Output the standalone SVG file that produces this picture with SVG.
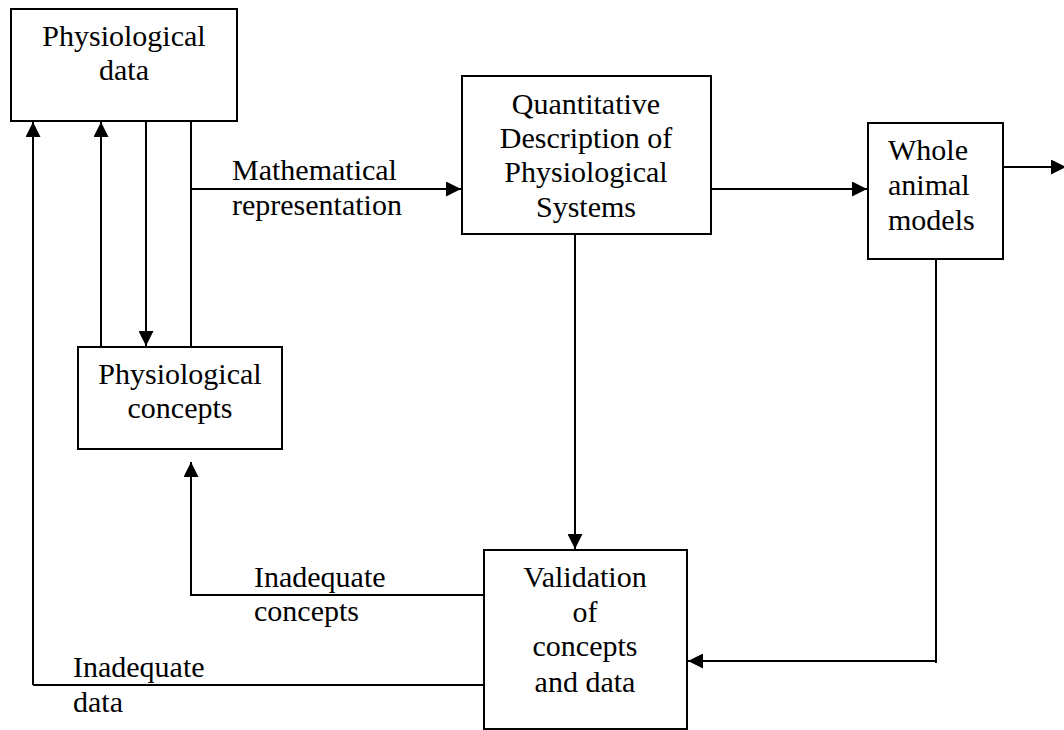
<svg xmlns="http://www.w3.org/2000/svg" width="1064" height="730" viewBox="0 0 1064 730">
<style>
.box{fill:#fff;stroke:#000;stroke-width:2}
.ln{fill:none;stroke:#000;stroke-width:2}
text{font-family:"Liberation Serif","Times New Roman",serif;font-size:30px;fill:#000}
.c{text-anchor:middle}
</style>
<defs>
<marker id="ah" markerUnits="userSpaceOnUse" markerWidth="15" markerHeight="15" viewBox="0 0 14 14" refX="14" refY="7" orient="auto">
<path d="M0,0 L14,7 L0,14 Z" fill="#000"/>
</marker>
</defs>
<rect width="1064" height="730" fill="#fff"/>
<g id="connectors">
<line class="ln" x1="33" y1="685" x2="33" y2="122" marker-end="url(#ah)"/>
<line class="ln" x1="101" y1="347" x2="101" y2="122" marker-end="url(#ah)"/>
<line class="ln" x1="146" y1="121" x2="146" y2="346" marker-end="url(#ah)"/>
<line class="ln" x1="191" y1="121" x2="191" y2="347"/>
<line class="ln" x1="191" y1="189" x2="461" y2="189" marker-end="url(#ah)"/>
<line class="ln" x1="711" y1="189" x2="867" y2="189" marker-end="url(#ah)"/>
<line class="ln" x1="1003" y1="167" x2="1066" y2="167" marker-end="url(#ah)"/>
<line class="ln" x1="575" y1="234" x2="575" y2="549" marker-end="url(#ah)"/>
<polyline class="ln" points="936,259 936,663"/>
<line class="ln" x1="936" y1="661" x2="688" y2="661" marker-end="url(#ah)"/>
<polyline class="ln" points="484,595 191,595 191,462" marker-end="url(#ah)"/>
<polyline class="ln" points="484,685 33,685"/>
<text x="232" y="180">Mathematical</text>
<text x="232" y="215">representation</text>
<text x="254" y="587">Inadequate</text>
<text x="254" y="621">concepts</text>
<text x="73" y="677">Inadequate</text>
<text x="73" y="712">data</text>
</g>
<g id="physiological-data">
<rect class="box" x="11" y="9" width="226" height="112"/>
<text class="c" x="124" y="46">Physiological</text>
<text class="c" x="124" y="80">data</text>
</g>
<g id="physiological-concepts">
<rect class="box" x="78" y="347" width="204" height="102"/>
<text class="c" x="180" y="384">Physiological</text>
<text class="c" x="180" y="418">concepts</text>
</g>
<g id="quantitative-description">
<rect class="box" x="462" y="76" width="249" height="158"/>
<text class="c" x="586" y="114">Quantitative</text>
<text class="c" x="586" y="148">Description of</text>
<text class="c" x="586" y="182">Physiological</text>
<text class="c" x="586" y="217">Systems</text>
</g>
<g id="whole-animal-models">
<rect class="box" x="868" y="123" width="135" height="136"/>
<text x="888" y="160">Whole</text>
<text x="888" y="195">animal</text>
<text x="888" y="230">models</text>
</g>
<g id="validation">
<rect class="box" x="484" y="550" width="203" height="179"/>
<text class="c" x="585" y="587">Validation</text>
<text class="c" x="585" y="622">of</text>
<text class="c" x="585" y="656">concepts</text>
<text class="c" x="585" y="692">and data</text>
</g>
</svg>
